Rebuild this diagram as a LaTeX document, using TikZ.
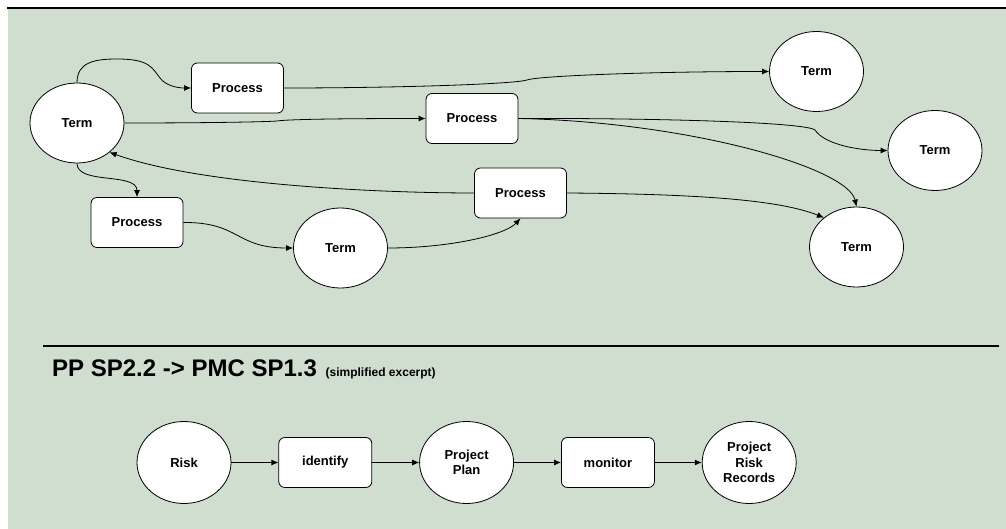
\documentclass[tikz,border=0pt]{standalone}
\usepackage{fontspec}
\setmainfont{Liberation Sans}
\usetikzlibrary{arrows.meta,positioning,shapes.geometric}
\definecolor{sage}{RGB}{207,222,207}

\begin{document}
\begin{tikzpicture}[
    x=1pt, y=-1pt,
    termnode/.style={ellipse,
        draw=black,
        line width=0.8pt,
        fill=white,
        inner sep=0pt,
        text centered,
        align=center,
        minimum width=94pt,
        minimum height=80pt,
        font=\bfseries\fontsize{13}{15.5}\selectfont},
    procnode/.style={rectangle,
        draw=black,
        line width=0.8pt,
        fill=white,
        rounded corners=6pt,
        text centered,
        minimum width=92pt,
        minimum height=50pt,
        font=\bfseries\fontsize{13}{15.5}\selectfont},
    link/.style={-{Latex[length=7pt,width=6pt]}, line width=0.8pt},
        on grid=false,
        node distance=47pt,
    ]

    \useasboundingbox (0,0) rectangle (1006,529);
    \fill[sage] (8,9) rectangle (1006,529);
    \draw[line width=2pt] (7,8) -- (1006,8);
    \draw[line width=1.2pt] (43,346) -- (999,346);

    % upper part
    \node [termnode] (termA) at (77,123) {Term};
    \node [procnode] (procA) at (237.5,88) {Process};
    \node [procnode] (procB) at (472,118.5) {Process};
    \node [procnode] (procC) at (137,222.5) {Process};
    \node [termnode] (termB) at (340.5,248) {Term};
    \node [procnode] (procD) at (520.5,193) {Process};
    \node [termnode] (termC) at (816.5,71.5) {Term};
    \node [termnode] (termD) at (935,150.5) {Term};
    \node [termnode] (termE) at (856.5,247) {Term};

    \draw[link] (termA.north) .. controls (77,62) and (95,59) .. (117,59)
        .. controls (150,59) and (152,68) .. (160,78)
        .. controls (166,86) and (178,88) .. (procA.west);
    \draw[link] (procA.east) .. controls (400,88) and (515,84) .. (527,80)
        .. controls (537,76) and (650,71.5) .. (termC.west);
    \draw[link] (termA.east) .. controls (200,123) and (265,122) .. (277,121)
        .. controls (290,119) and (360,118.5) .. (procB.west);
    \draw[link] (procB.east) .. controls (650,118) and (805,122) .. (815,130)
        .. controls (825,145) and (860,150.5) .. (termD.west);
    \draw[link] (procB.east) .. controls (690,122) and (848,168) .. (termE.north);
    \draw[link] (procD.west) .. controls (380,193) and (200,185) .. (termA.-42);
    \draw[link] (termA.south) .. controls (77,185) and (137,172) .. (procC.north);
    \draw[link] (procC.east) .. controls (240,222) and (235,248) .. (termB.west);
    \draw[link] (termB.east) .. controls (450,248) and (505,235) .. (procD.south);
    \draw[link] (procD.east) .. controls (700,194) and (780,200) .. (termE.138);

    % lower part
    \node [anchor=base west, inner sep=0pt, font=\bfseries\fontsize{24}{28}\selectfont] (title) at (52,376)
        {PP SP2.2 -> PMC SP1.3\hspace{2pt} {\fontsize{12}{14}\selectfont (simplified excerpt)}};

    \node [termnode, minimum height=82pt] (risk) at (184,462.5) {Risk};
    \node [procnode, minimum width=93pt, right = of risk] (identify) {identify};
    \node [termnode, minimum height=82pt, right = of identify] (plan) {Project\\Plan};
    \node [procnode, minimum width=93pt, right = of plan] (monitor) {monitor};
    \node [termnode, minimum height=82pt, right = of monitor] (records) {Project\\Risk\\Records};

    \draw[link] (risk) -- (identify);
    \draw[link] (identify) -- (plan);
    \draw[link] (plan) -- (monitor);
    \draw[link] (monitor) -- (records);
\end{tikzpicture}
\end{document}
